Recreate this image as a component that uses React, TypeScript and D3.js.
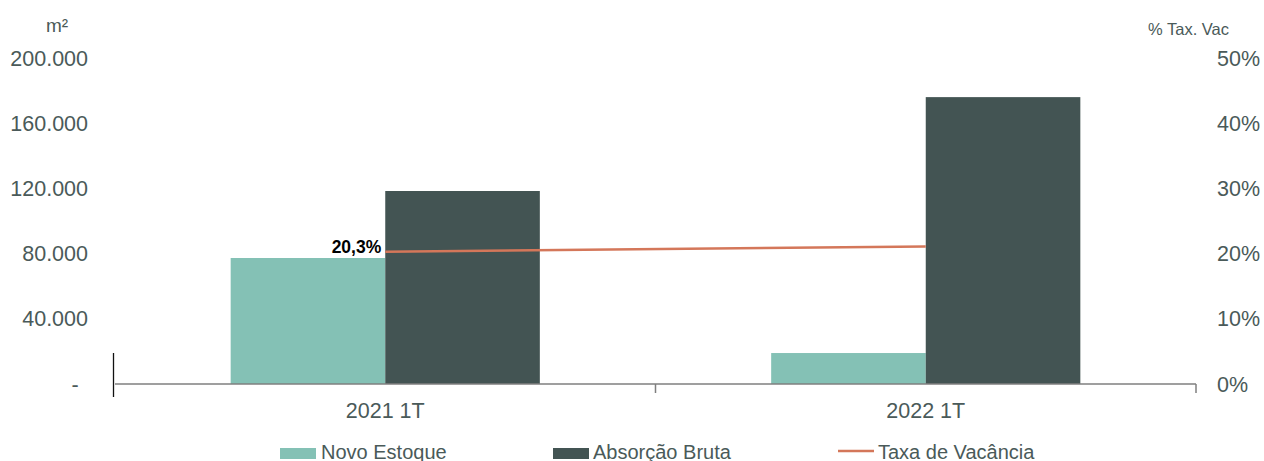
import React from 'react';
import * as d3 from 'd3';

// ── Data ──────────────────────────────────────────────────────────────────────
const categories = ['2021 1T', '2022 1T'];
const novoEstoque = [77300, 19000];
const absorcaoBruta = [118400, 176000];
const taxaVacancia = [0.203, 0.211];
const leftTicks = [0, 40000, 80000, 120000, 160000, 200000];
const rightTicks = [0, 0.1, 0.2, 0.3, 0.4, 0.5];

const W = 1264;
const H = 461;
const FONT = '"Liberation Sans", Arial, sans-serif';
const TEXT = '#4a5a59';
const C_NOVO = '#84c1b5';
const C_ABS = '#435453';
const C_LINE = '#d4775a';

const fmtLeft = (v: number) => (v === 0 ? '-' : d3.format(',')(v).replace(/,/g, '.'));
const fmtRight = (v: number) => `${Math.round(v * 100)}%`;

// ── Chart ─────────────────────────────────────────────────────────────────────
const App: React.FC = () => {
  const plot = { left: 115, right: 1196, top: 58, bottom: 384 };

  const x = d3.scaleBand<string>().domain(categories).range([plot.left, plot.right])
    .paddingInner(0.428).paddingOuter(0.214);
  const yL = d3.scaleLinear().domain([0, 200000]).range([plot.bottom, plot.top]);
  const yR = d3.scaleLinear().domain([0, 0.5]).range([plot.bottom, plot.top]);
  const step = x.step();
  const bw = x.bandwidth() / 2;

  const line = d3.line<number>()
    .x((_, i) => (x(categories[i]) as number) + x.bandwidth() / 2)
    .y(d => yR(d));

  // category boundaries for tick marks
  const boundaries = [plot.left, ...categories.map((_, i) => plot.left + step * (i + 1))];

  return (
    <svg width={W} height={H} style={{ position: 'fixed', left: 0, top: 0, display: 'block' }}
      fontFamily={FONT}>
      <rect width={W} height={H} fill="#fff" />

      {/* Bars */}
      {categories.map((c, i) => {
        const x0 = x(c) as number;
        return (
          <g key={c}>
            <rect x={x0} y={yL(novoEstoque[i])} width={bw} height={plot.bottom - yL(novoEstoque[i])} fill={C_NOVO} />
            <rect x={x0 + bw} y={yL(absorcaoBruta[i])} width={bw} height={plot.bottom - yL(absorcaoBruta[i])} fill={C_ABS} />
          </g>
        );
      })}

      {/* Axis line + ticks */}
      <line x1={plot.left} x2={plot.right} y1={plot.bottom} y2={plot.bottom} stroke="#7f7f7f" strokeWidth={1.5} />
      <line x1={plot.left - 1.5} x2={plot.left - 1.5} y1={353} y2={397} stroke="#111" strokeWidth={1.3} />
      {boundaries.slice(1).map((bx, i) => (
        <line key={i} x1={bx} x2={bx} y1={plot.bottom} y2={plot.bottom + 9} stroke="#7f7f7f" strokeWidth={1.5} />
      ))}

      {/* Vacancy line */}
      <path d={line(taxaVacancia) || ''} fill="none" stroke={C_LINE} strokeWidth={2.5} />
      <text x={(x(categories[0]) as number) + x.bandwidth() / 2 - 4} y={yR(taxaVacancia[0]) + 1}
        textAnchor="end" fontSize={17.5} fontWeight={700} fill="#000">
        {d3.format('.1%')(taxaVacancia[0]).replace('.', ',')}
      </text>

      {/* Left axis labels */}
      <text x={57} y={32} textAnchor="middle" fontSize={19} fill={TEXT}>m²</text>
      {leftTicks.map(t => (
        <text key={t} x={t === 0 ? 75 : 88} y={yL(t)} dy="0.35em" textAnchor={t === 0 ? 'middle' : 'end'}
          fontSize={21.5} fill={TEXT}>{fmtLeft(t)}</text>
      ))}

      {/* Right axis labels */}
      <text x={1148} y={35} fontSize={16.5} fill={TEXT}>% Tax. Vac</text>
      {rightTicks.map(t => (
        <text key={t} x={1217} y={yR(t)} dy="0.35em" fontSize={21.5} fill={TEXT}>{fmtRight(t)}</text>
      ))}

      {/* Category labels */}
      {categories.map(c => (
        <text key={c} x={(x(c) as number) + x.bandwidth() / 2} y={418} textAnchor="middle" fontSize={21.5} fill={TEXT}>{c}</text>
      ))}

      {/* Legend */}
      <g fontSize={20} fill={TEXT}>
        <rect x={280} y={448} width={36} height={11} fill={C_NOVO} />
        <text x={321} y={459}>Novo Estoque</text>
        <rect x={553} y={448} width={36} height={11} fill={C_ABS} />
        <text x={593} y={459}>Absorção Bruta</text>
        <line x1={838} x2={874} y1={451} y2={451} stroke={C_LINE} strokeWidth={2.5} />
        <text x={878} y={459}>Taxa de Vacância</text>
      </g>
    </svg>
  );
};

export default App;
